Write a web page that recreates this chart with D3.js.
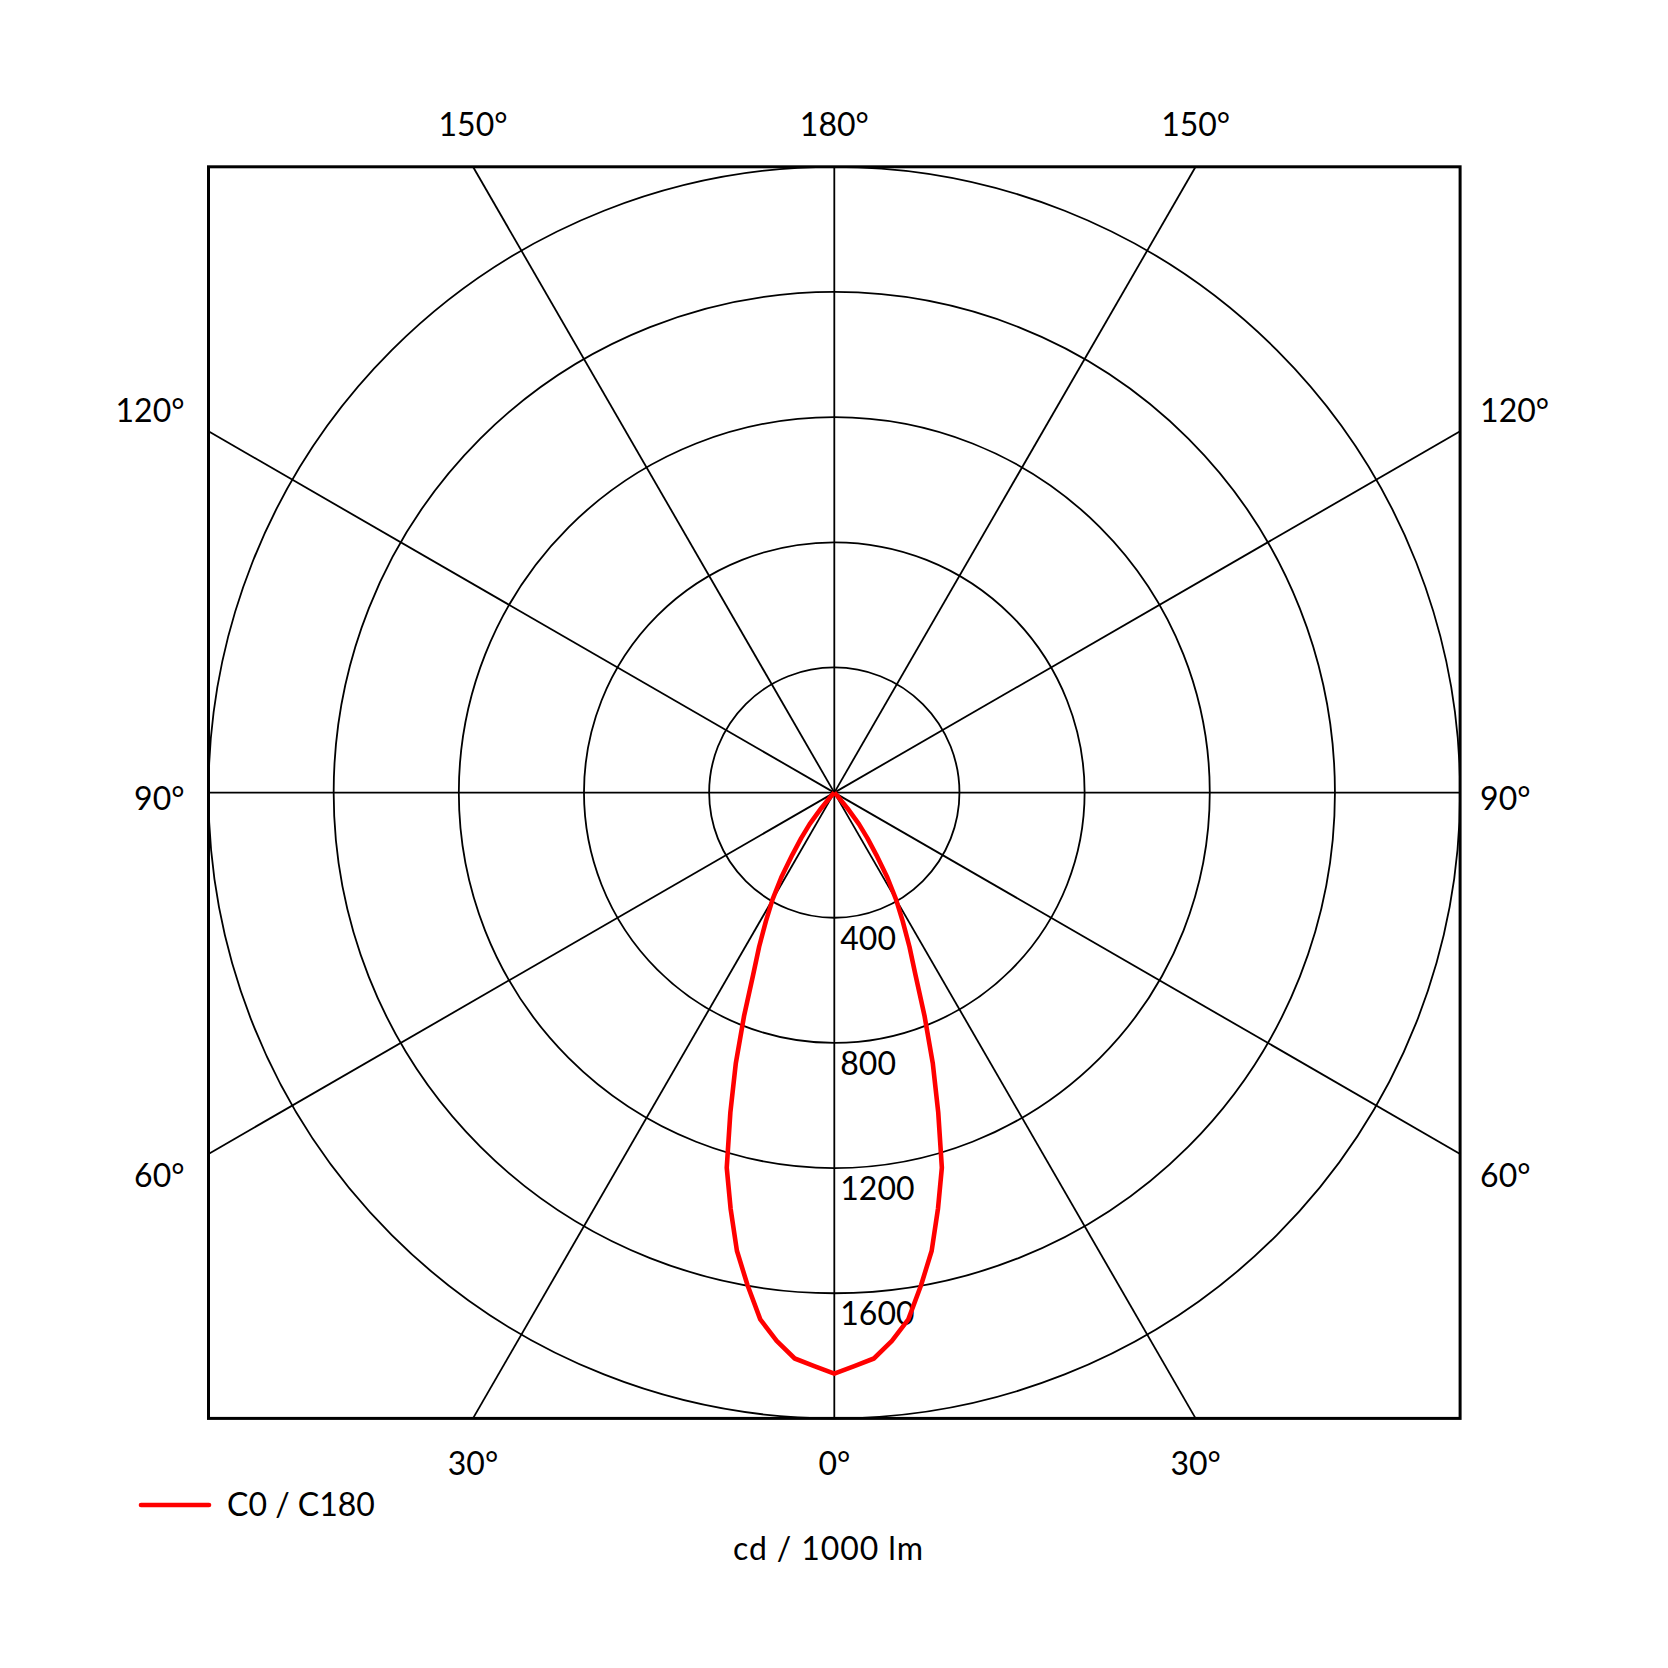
<!DOCTYPE html>
<html>
<head>
<meta charset="utf-8">
<script src="https://cdn.jsdelivr.net/npm/d3@7"></script>
<style>
    html, body { margin: 0; padding: 0; background: #fff; }
    svg text { font-family: Lato, "Open Sans", sans-serif; fill: #000; }
</style>
</head>
<body>
<div id="chart"></div>
<script>
(function () {
    "use strict";

    const gammaAngles = [0, 2, 4, 6, 8, 10, 12, 14, 16, 18, 20, 22, 24, 26, 28, 30, 32, 34, 36, 38, 40, 42, 44];
    const c0Values = [1857, 1834, 1813, 1762, 1700, 1598, 1497, 1370, 1247, 1075, 920, 770, 638, 548, 466, 395, 320, 240, 180, 128, 65, 18, 0];
    const c180Values = [1857, 1834, 1813, 1762, 1700, 1598, 1497, 1370, 1247, 1075, 920, 770, 638, 548, 466, 395, 320, 240, 180, 128, 65, 18, 0];

    const ringValues = [400, 800, 1200, 1600, 2000];
    const ringLabels = ["400", "800", "1200", "1600"];
    const spokeAngles = [0, 30, 60, 90, 120, 150, 180, 210, 240, 270, 300, 330];
    const topLabels = ["150°", "180°", "150°"];
    const bottomLabels = ["30°", "0°", "30°"];
    const sideLabels = ["120°", "90°", "60°"];
    const legendLabel = "C0 / C180";
    const unitLabel = "cd / 1000 lm";

    const width = 1668;
    const height = 1668;
    const cx = 834.3;
    const cy = 792.6;
    const half = 625.8;
    const fontSize = 32;

    const rScale = d3.scaleLinear()
        .domain([0, 2000])
        .range([0, half]);

    const svg = d3.select("#chart").append("svg")
        .attr("width", width)
        .attr("height", height);

    const g = svg.append("g")
        .attr("transform", `translate(${cx},${cy})`);

    // rings
    g.selectAll("circle.ring")
        .data(ringValues)
        .enter().append("circle")
        .attr("class", "ring")
        .attr("r", d => rScale(d))
        .attr("fill", "none")
        .attr("stroke", "#000")
        .attr("stroke-width", 1.8);

    // spokes, angle measured from straight down, clipped by the square frame
    function spokeEnd(deg) {
        const a = deg * Math.PI / 180;
        const dx = -Math.sin(a);
        const dy = Math.cos(a);
        const k = half / Math.max(Math.abs(dx), Math.abs(dy));
        return [dx * k, dy * k];
    }

    g.selectAll("line.spoke")
        .data(spokeAngles)
        .enter().append("line")
        .attr("class", "spoke")
        .attr("x1", 0)
        .attr("y1", 0)
        .attr("x2", d => spokeEnd(d)[0])
        .attr("y2", d => spokeEnd(d)[1])
        .attr("stroke", "#000")
        .attr("stroke-width", 1.8);

    // frame
    g.append("rect")
        .attr("x", -half)
        .attr("y", -half)
        .attr("width", half * 2)
        .attr("height", half * 2)
        .attr("fill", "none")
        .attr("stroke", "#000")
        .attr("stroke-width", 3);

    // ring value labels
    g.selectAll("text.ring-label")
        .data(ringLabels)
        .enter().append("text")
        .attr("class", "ring-label")
        .attr("x", 6)
        .attr("y", d => rScale(+d) + 21)
        .attr("dy", "0.35em")
        .attr("font-size", fontSize)
        .text(d => d);

    // intensity curve: C0 on the right half, C180 on the left half
    const curvePoints = [];
    for (let i = gammaAngles.length - 1; i >= 0; i--) {
        curvePoints.push({ a: Math.PI + gammaAngles[i] * Math.PI / 180, r: c180Values[i] });
    }
    for (let i = 1; i < gammaAngles.length; i++) {
        curvePoints.push({ a: Math.PI - gammaAngles[i] * Math.PI / 180, r: c0Values[i] });
    }

    const radialLine = d3.lineRadial()
        .angle(d => d.a)
        .radius(d => rScale(d.r))
        .curve(d3.curveLinear);

    g.append("path")
        .datum(curvePoints)
        .attr("d", radialLine)
        .attr("fill", "none")
        .attr("stroke", "#ff0000")
        .attr("stroke-width", 4.6)
        .attr("stroke-linejoin", "round");

    // angle labels
    const xAt = [-spokeEnd(150)[0], 0, spokeEnd(150)[0]];
    g.selectAll("text.top-label")
        .data(topLabels)
        .enter().append("text")
        .attr("x", (d, i) => xAt[i])
        .attr("y", -half - 42)
        .attr("dy", "0.35em")
        .attr("text-anchor", "middle")
        .attr("font-size", fontSize)
        .text(d => d);

    g.selectAll("text.bottom-label")
        .data(bottomLabels)
        .enter().append("text")
        .attr("x", (d, i) => xAt[i])
        .attr("y", half + 45)
        .attr("dy", "0.35em")
        .attr("text-anchor", "middle")
        .attr("font-size", fontSize)
        .text(d => d);

    const sideY = [-382, 6, 383];
    g.selectAll("text.left-label")
        .data(sideLabels)
        .enter().append("text")
        .attr("x", -half - 24)
        .attr("y", (d, i) => sideY[i])
        .attr("dy", "0.35em")
        .attr("text-anchor", "end")
        .attr("font-size", fontSize)
        .text(d => d);

    g.selectAll("text.right-label")
        .data(sideLabels)
        .enter().append("text")
        .attr("x", half + 20)
        .attr("y", (d, i) => sideY[i])
        .attr("dy", "0.35em")
        .attr("text-anchor", "start")
        .attr("font-size", fontSize)
        .text(d => d);

    // legend
    svg.append("line")
        .attr("x1", 141)
        .attr("x2", 209)
        .attr("y1", 1505)
        .attr("y2", 1505)
        .attr("stroke", "#ff0000")
        .attr("stroke-width", 4.6)
        .attr("stroke-linecap", "round");

    svg.append("text")
        .attr("x", 227)
        .attr("y", 1505)
        .attr("dy", "0.35em")
        .attr("font-size", fontSize)
        .text(legendLabel);

    svg.append("text")
        .attr("x", 828)
        .attr("y", 1549)
        .attr("dy", "0.35em")
        .attr("text-anchor", "middle")
        .attr("font-size", fontSize)
        .attr("textLength", 190)
        .text(unitLabel);
}());
</script>
</body>
</html>
